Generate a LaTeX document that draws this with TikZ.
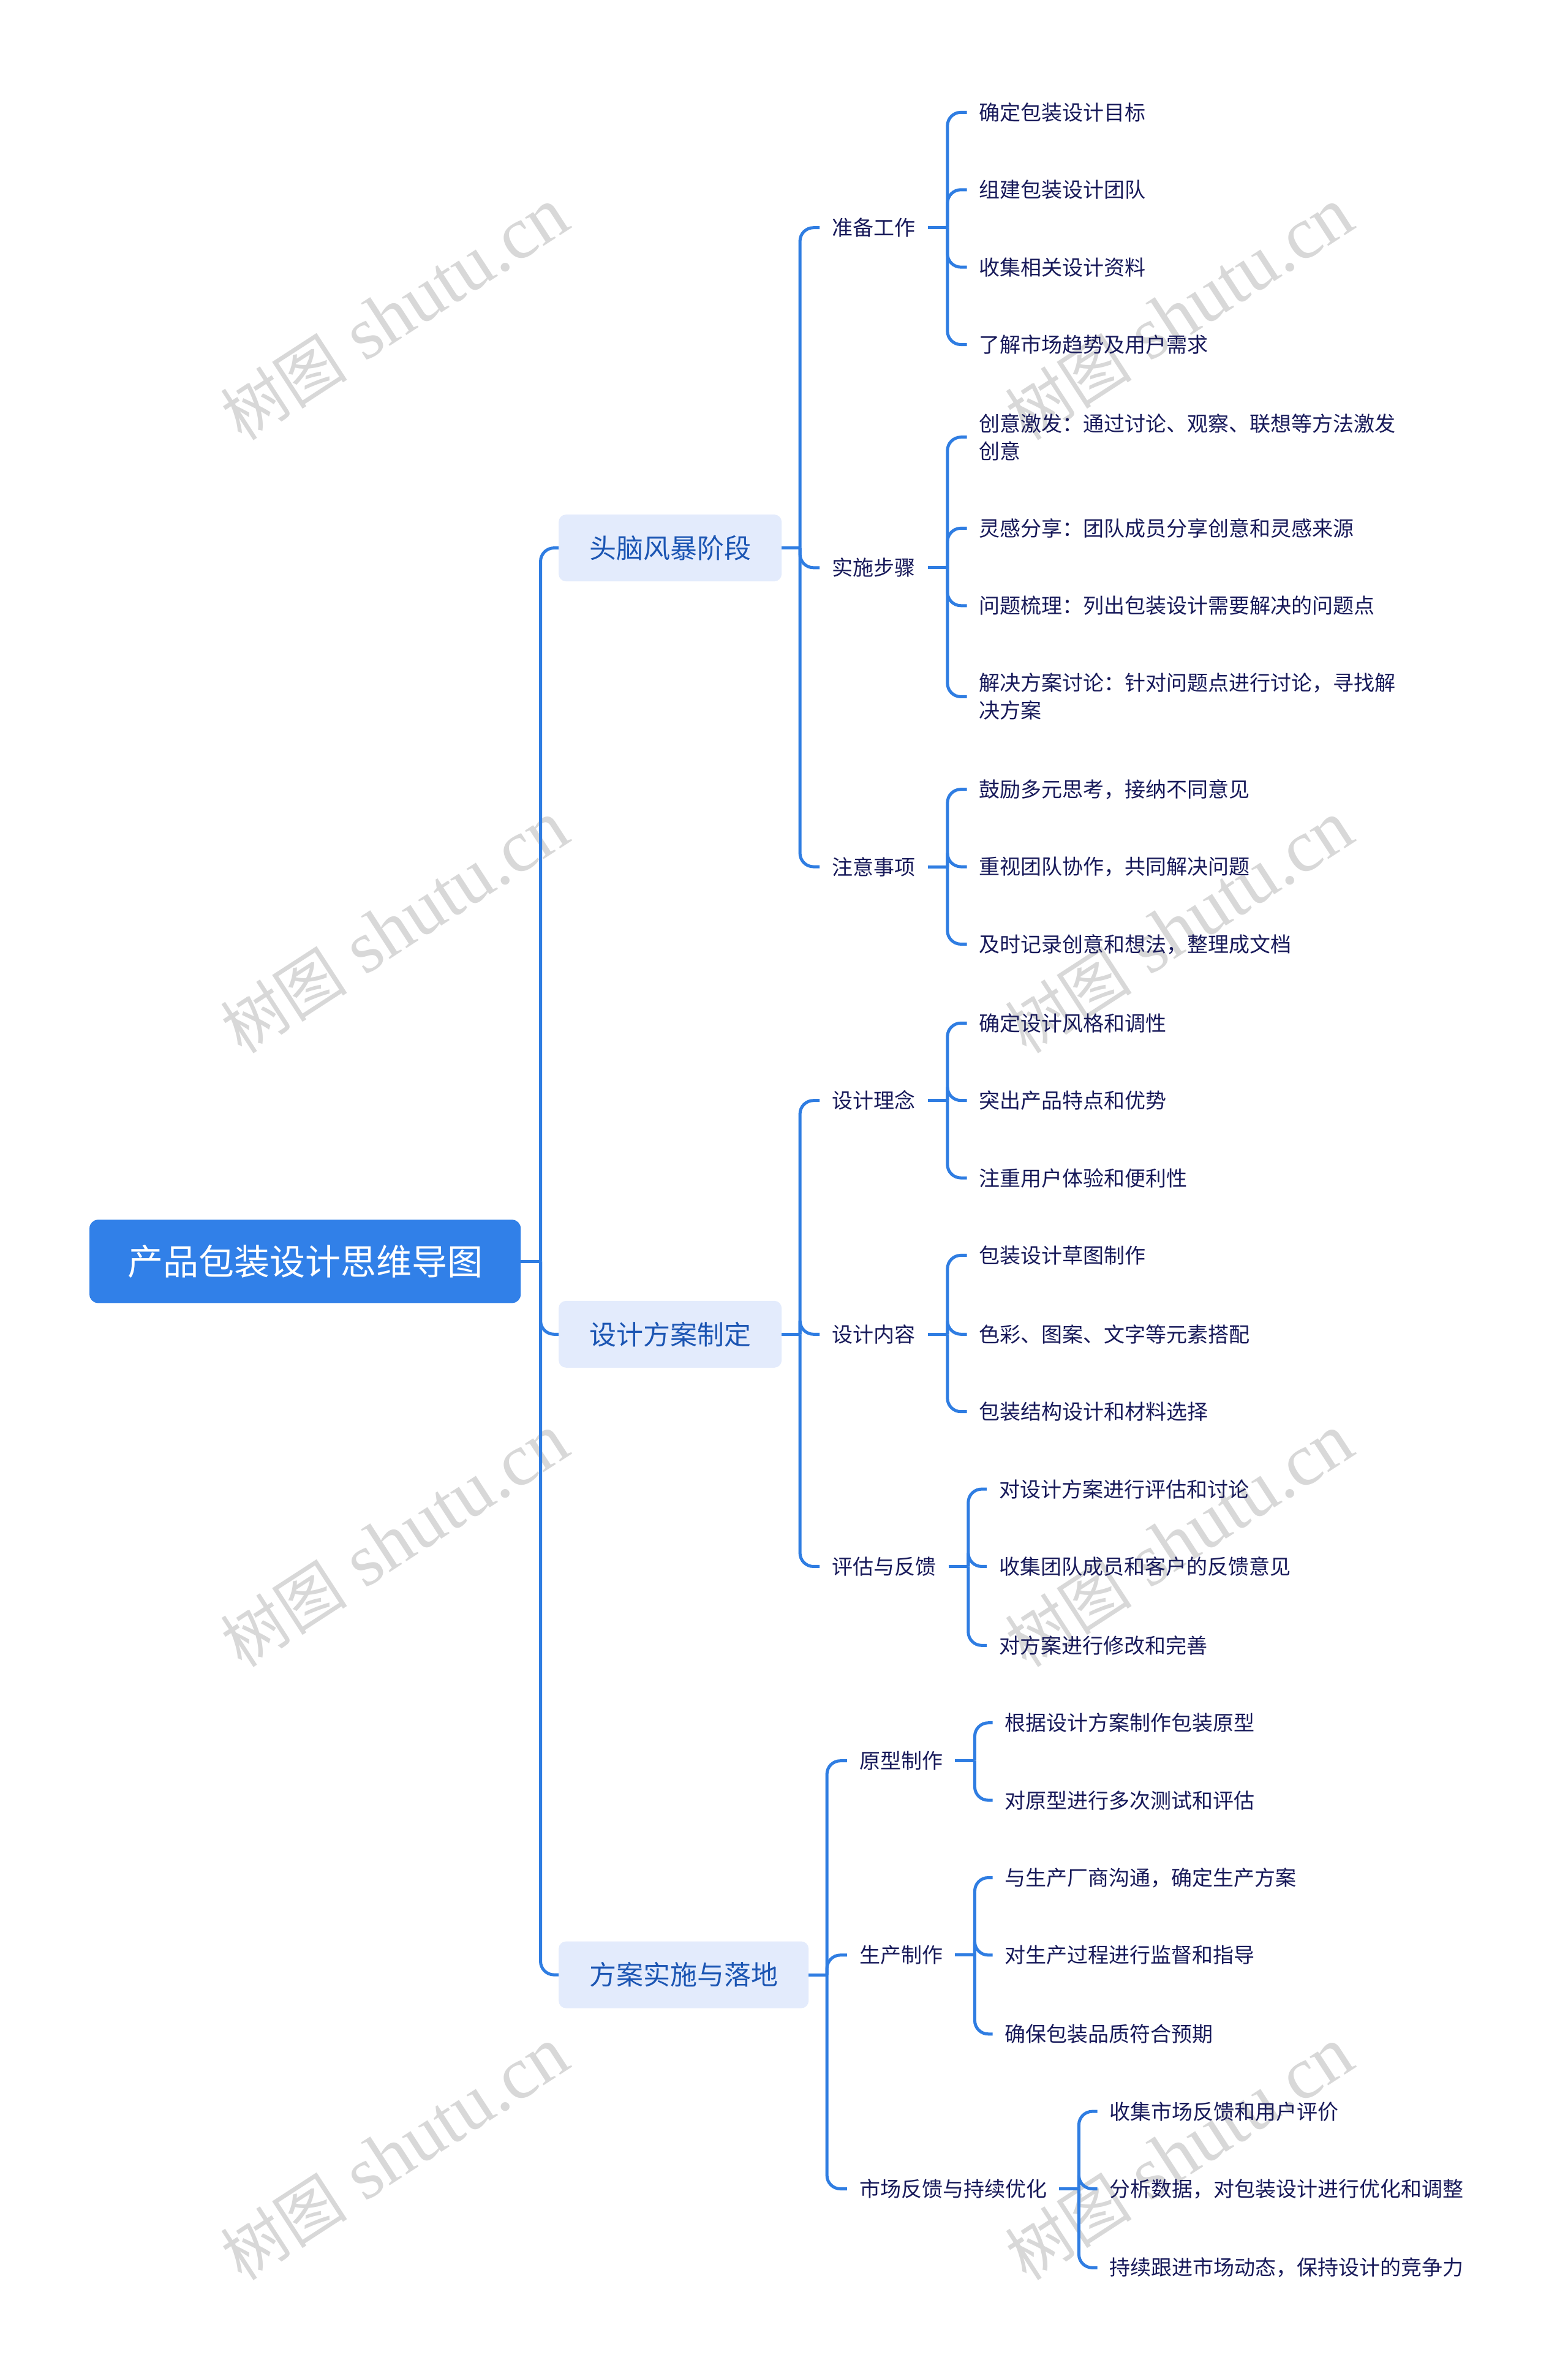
\documentclass[tikz,border=0pt]{standalone}
\usepackage{fontspec}
\setmainfont{Liberation Serif}
\newfontfamily\cjk{Noto Sans CJK SC}
\usetikzlibrary{positioning}

\definecolor{linkblue}{RGB}{47,125,226}
\definecolor{rootblue}{RGB}{49,128,232}
\definecolor{topicfill}{RGB}{227,235,252}
\definecolor{topictext}{RGB}{27,85,179}
\definecolor{leaftext}{RGB}{24,26,90}
\definecolor{wmgray}{RGB}{216,216,216}

\tikzset{
  link/.style={draw=linkblue, line width=5bp, rounded corners=22bp},
  rootbox/.style={fill=rootblue, text=white, rounded corners=14bp,
    minimum width=704bp, minimum height=136bp,
    font=\cjk\fontsize{58bp}{70bp}\selectfont},
  topic/.style={fill=topicfill, text=topictext, rounded corners=12bp,
    anchor=west, inner xsep=50bp, minimum height=109bp,
    font=\cjk\fontsize{44bp}{54bp}\selectfont},
  item/.style={text=leaftext, anchor=west, inner xsep=20bp, inner ysep=4bp,
    align=left, font=\cjk\fontsize{34bp}{45bp}\selectfont},
  wmark/.style={text=wmgray, rotate=33, font=\fontsize{121bp}{130bp}\selectfont},
}

\begin{document}
\begin{tikzpicture}[x=2.4782bp, y=-2.4782bp]
  \useasboundingbox (0,0) rectangle (1033,1567.3);
  \fill[white] (0,0) rectangle (1033,1567.3);

  % watermarks
  \foreach \wy [count=\k] in {207,611,1015,1419} {
    \node[wmark] (wl\k) at (260,\wy) {{\cjk\fontsize{104bp}{110bp}\selectfont 树图} shutu.cn};
    \node[wmark] (wr\k) at (777,\wy) {{\cjk\fontsize{104bp}{110bp}\selectfont 树图} shutu.cn};
  }

  \node[rootbox] (root) at (201,831) {产品包装设计思维导图};

  \node[topic] (h1) at (368,361) {头脑风暴阶段};
  \node[topic] (h2) at (368,879) {设计方案制定};
  \node[topic] (h3) at (368,1301) {方案实施与落地};

  \node[item] (a) at (540,150) {准备工作};
  \node[item] (b) at (540,374) {实施步骤};
  \node[item] (c) at (540,571) {注意事项};
  \node[item] (d) at (540,725) {设计理念};
  \node[item] (e) at (540,879) {设计内容};
  \node[item] (f) at (540,1032) {评估与反馈};
  \node[item] (g) at (558,1160) {原型制作};
  \node[item] (h) at (558,1288) {生产制作};
  \node[item] (i) at (558,1442) {市场反馈与持续优化};

  \node[item] (a1) at (637,74) {确定包装设计目标};
  \node[item] (a2) at (637,125) {组建包装设计团队};
  \node[item] (a3) at (637,176) {收集相关设计资料};
  \node[item] (a4) at (637,227) {了解市场趋势及用户需求};

  \node[item] (b1) at (637,288) {创意激发：通过讨论、观察、联想等方法激发\\创意};
  \node[item] (b2) at (637,348) {灵感分享：团队成员分享创意和灵感来源};
  \node[item] (b3) at (637,399) {问题梳理：列出包装设计需要解决的问题点};
  \node[item] (b4) at (637,459) {解决方案讨论：针对问题点进行讨论，寻找解\\决方案};

  \node[item] (c1) at (637,520) {鼓励多元思考，接纳不同意见};
  \node[item] (c2) at (637,571) {重视团队协作，共同解决问题};
  \node[item] (c3) at (637,622) {及时记录创意和想法，整理成文档};

  \node[item] (d1) at (637,674) {确定设计风格和调性};
  \node[item] (d2) at (637,725) {突出产品特点和优势};
  \node[item] (d3) at (637,776) {注重用户体验和便利性};

  \node[item] (e1) at (637,827) {包装设计草图制作};
  \node[item] (e2) at (637,879) {色彩、图案、文字等元素搭配};
  \node[item] (e3) at (637,930) {包装结构设计和材料选择};

  \node[item] (f1) at (650,981) {对设计方案进行评估和讨论};
  \node[item] (f2) at (650,1032) {收集团队成员和客户的反馈意见};
  \node[item] (f3) at (650,1084) {对方案进行修改和完善};

  \node[item] (g1) at (654,1135) {根据设计方案制作包装原型};
  \node[item] (g2) at (654,1186) {对原型进行多次测试和评估};

  \node[item] (h1a) at (654,1237) {与生产厂商沟通，确定生产方案};
  \node[item] (h2a) at (654,1288) {对生产过程进行监督和指导};
  \node[item] (h3a) at (654,1340) {确保包装品质符合预期};

  \node[item] (i1) at (723,1391) {收集市场反馈和用户评价};
  \node[item] (i2) at (723,1442) {分析数据，对包装设计进行优化和调整};
  \node[item] (i3) at (723,1494) {持续跟进市场动态，保持设计的竞争力};

  % connectors
  \draw[link] (root.east) -- ++(13,0) coordinate (j0);
  \foreach \c in {h1,h2,h3} \draw[link] (j0) |- (\c.west);

  \draw[link] (h1.east) -- ++(12,0) coordinate (j1);
  \foreach \c in {a,b,c} \draw[link] (j1) |- (\c.west);
  \draw[link] (h2.east) -- ++(12,0) coordinate (j2);
  \foreach \c in {d,e,f} \draw[link] (j2) |- (\c.west);
  \draw[link] (h3.east) -- ++(12,0) coordinate (j3);
  \foreach \c in {g,h,i} \draw[link] (j3) |- (\c.west);

  \foreach \p/\kids in {a/{a1,a2,a3,a4}, b/{b1,b2,b3,b4}, c/{c1,c2,c3},
      d/{d1,d2,d3}, e/{e1,e2,e3}, f/{f1,f2,f3}, g/{g1,g2},
      h/{h1a,h2a,h3a}, i/{i1,i2,i3}} {
    \draw[link] (\p.east) -- ++(13,0) coordinate (j\p);
    \foreach \c in \kids \draw[link] (j\p) |- (\c.west);
  }
\end{tikzpicture}
\end{document}
